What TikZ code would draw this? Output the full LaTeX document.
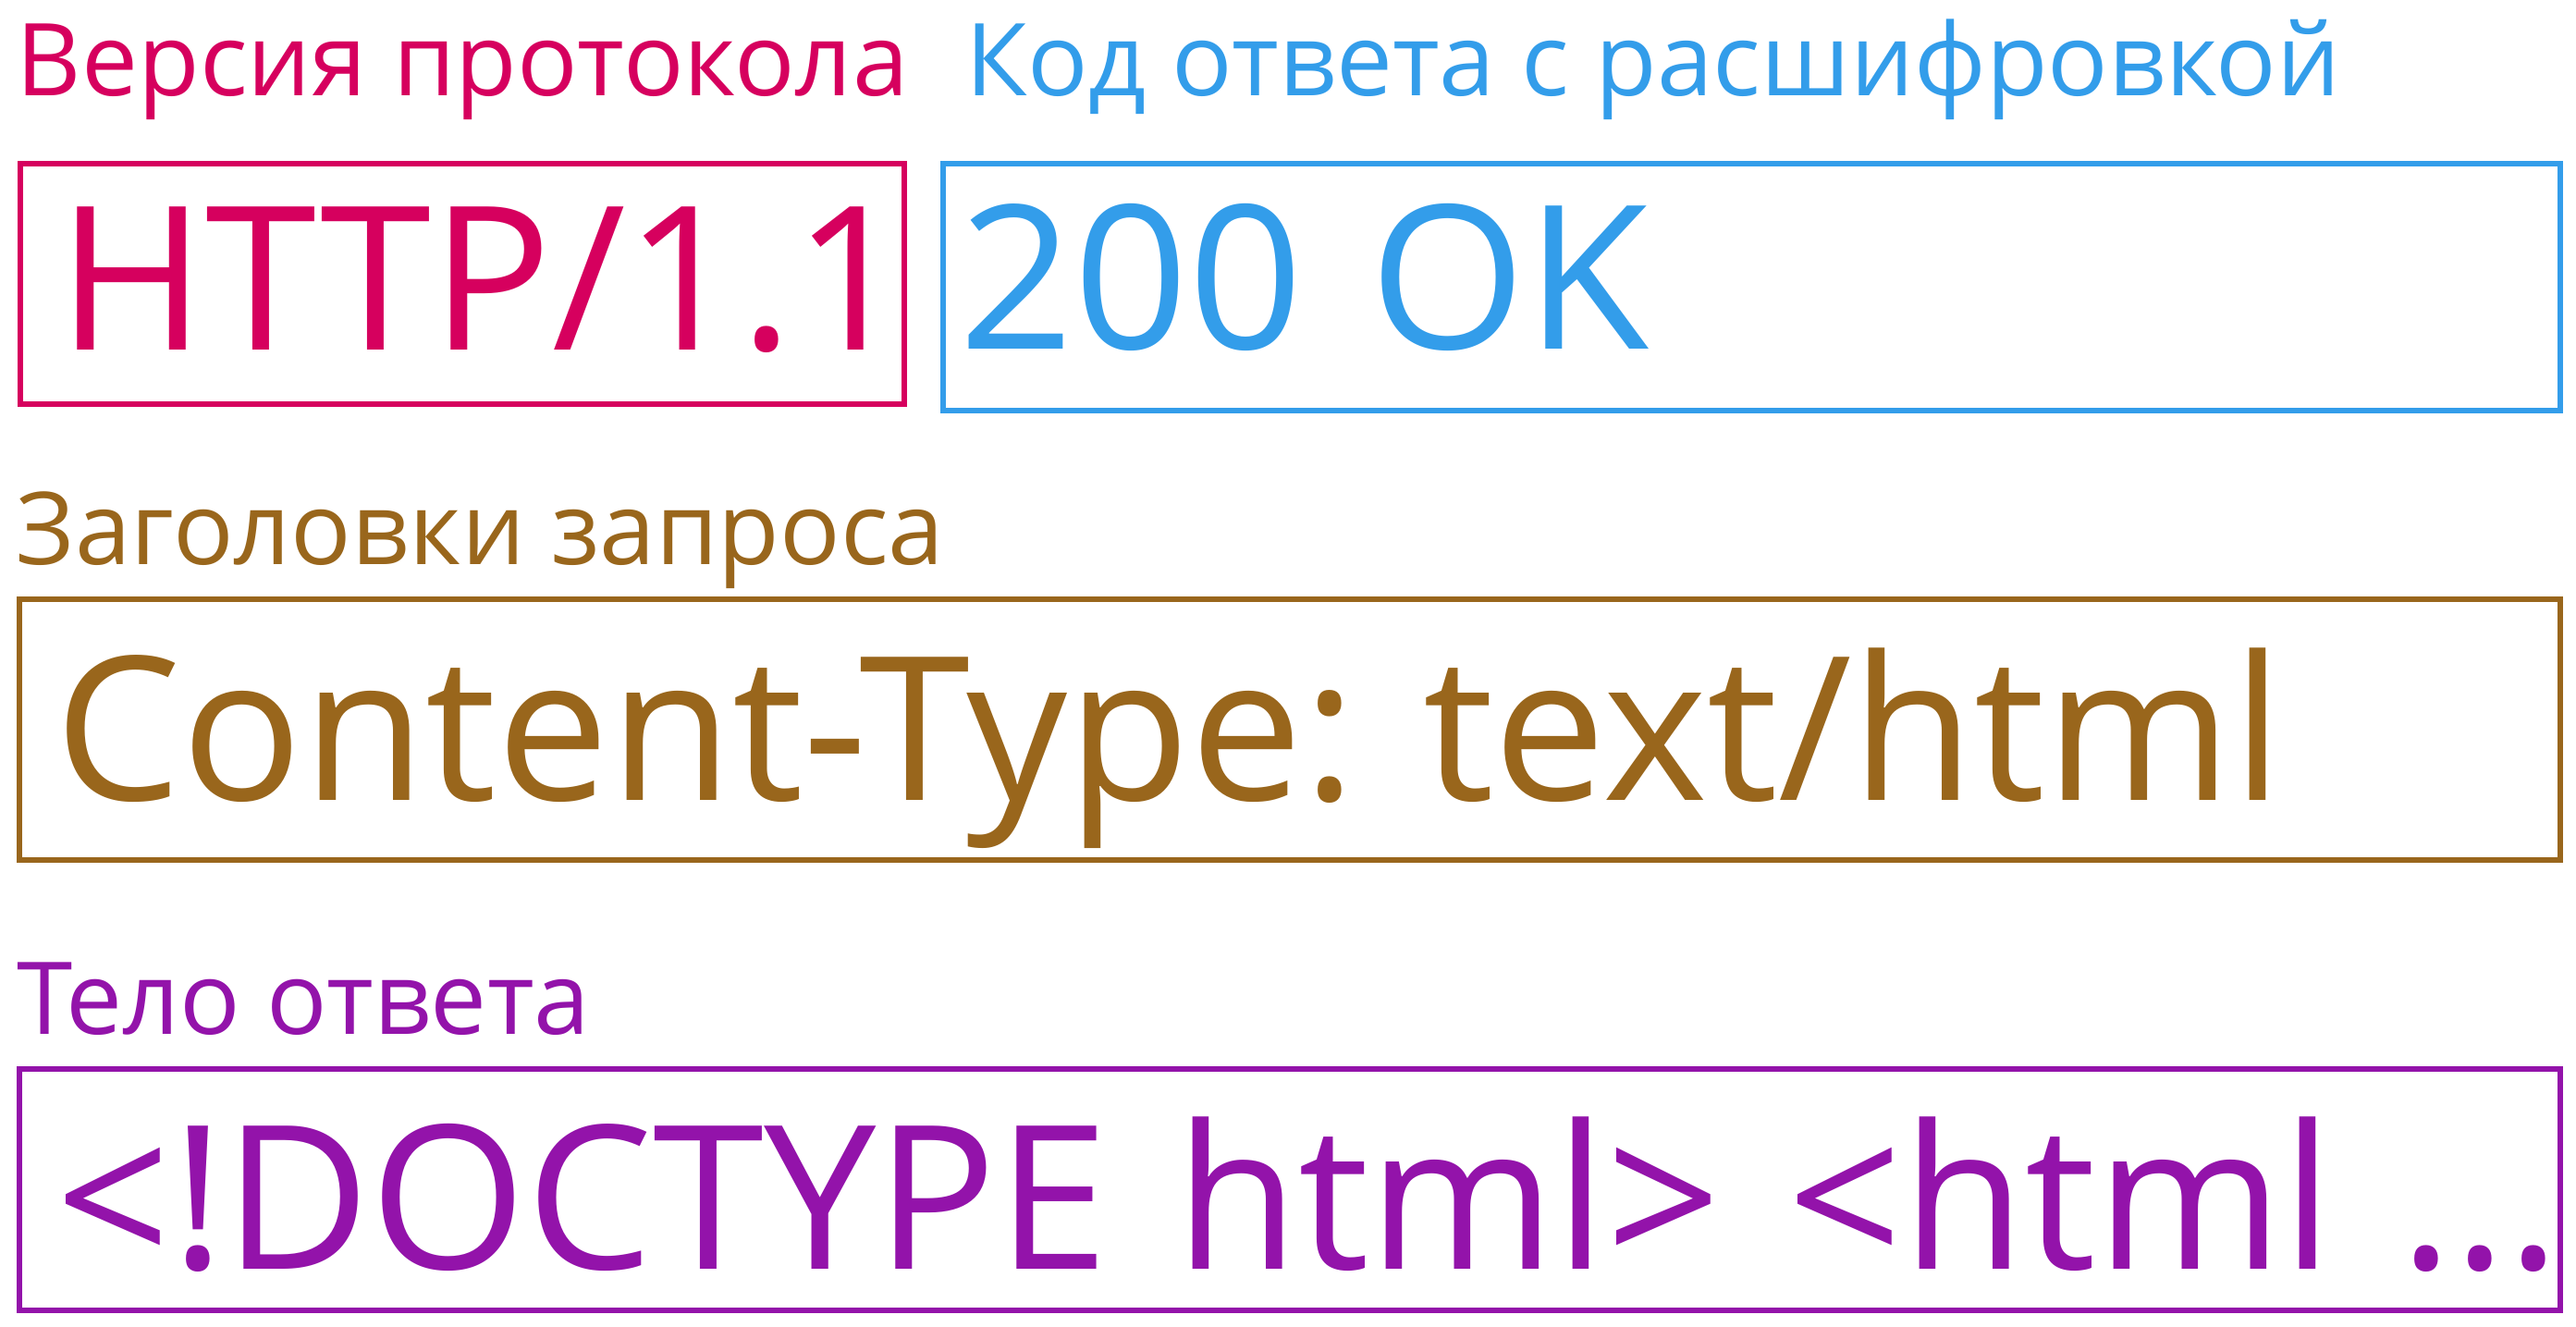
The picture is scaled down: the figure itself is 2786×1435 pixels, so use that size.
\documentclass[tikz,border=0pt]{standalone}
\usepackage{fontspec}
\setmainfont{Open Sans}
\frenchspacing
\definecolor{verpink}{RGB}{214,0,94}
\definecolor{codeblue}{RGB}{51,157,234}
\definecolor{headbrown}{RGB}{153,102,28}
\definecolor{bodypurple}{RGB}{147,19,170}
\begin{document}
\begin{tikzpicture}[x=0.25pt,y=0.25pt,
    lbl/.style={anchor=base west,inner sep=0pt,
    font=\fontsize{27.2pt}{33pt}\selectfont},
    field/.style={draw,line width=1.5pt,anchor=north west,
    outer sep=0pt,inner ysep=0pt,align=left,
    font=\fontsize{54.2pt}{66pt}\selectfont}]
    \useasboundingbox (0,0) rectangle (2786,-1435);
    \node[field,draw=verpink,text=verpink,text width=218.6pt,
    inner xsep=10.25pt,text height=50.25pt,text depth=14.75pt]
    (ver) at (21.5,-177) {\mbox{HTTP/1.1}};
    \node[field,draw=codeblue,text=codeblue,text width=428.4pt,
    inner xsep=4.5pt,text height=50pt,text depth=16.75pt]
    (code) at (1019.5,-177) {\mbox{200 OK}};
    \node[field,draw=headbrown,text=headbrown,text width=667.5pt,
    inner xsep=9.75pt,text height=54.25pt,text depth=16.25pt]
    (head) at (21,-648) {\mbox{Content-Type: text/html}};
    \node[field,draw=bodypurple,text=bodypurple,text width=667pt,
    inner xsep=10pt,text height=54.125pt,text depth=11.125pt]
    (body) at (21,-1155.5) {\mbox{<!DOCTYPE html> <html ...}};
    \node[lbl,text=verpink] (verlbl) at (17,-103) {Версия протокола};
    \node[lbl,text=codeblue] (codelbl) at (1044,-103) {Код ответа с расшифровкой};
    \node[lbl,text=headbrown] (headlbl) at (17,-610) {Заголовки запроса};
    \node[lbl,text=bodypurple] (bodylbl) at (18,-1118) {Тело ответа};
\end{tikzpicture}
\end{document}
